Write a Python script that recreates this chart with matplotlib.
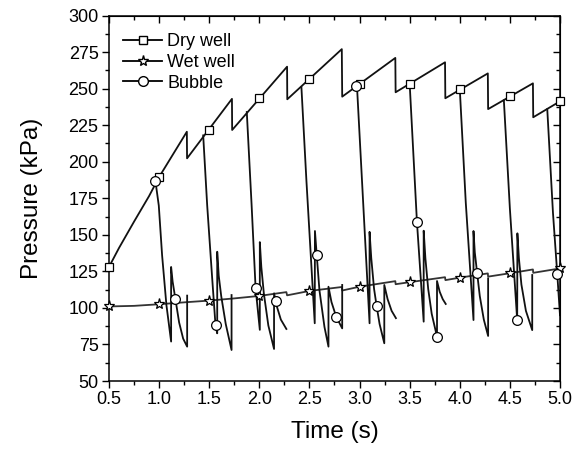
import matplotlib
matplotlib.use("Agg")
import matplotlib.pyplot as plt
import numpy as np
from matplotlib.lines import Line2D
from matplotlib.ticker import MultipleLocator, FormatStrFormatter

plt.rcParams['font.family'] = ['Liberation Sans', 'DejaVu Sans']

nan = np.nan

# dry well pressure (kPa) vs time (s)
dry_t = [0.5, 0.6, 0.75, 0.9, 1.0, 1.277, 1.279, 1.727, 1.729, 2.277, 2.279,
         2.823, 2.827, 3.357, 3.36, 3.853, 3.856, 4.28, 4.283, 4.73, 4.733, 5.0]
dry_p = [128, 141, 159, 176.5, 189.5, 220.5, 202.3, 243, 221.7, 265, 242.7,
         277, 244.5, 271, 247.5, 268, 243.4, 260.4, 236, 253.6, 230.4, 241.3]
dry_mk_t = [0.5, 1.0, 1.5, 2.0, 2.5, 3.0, 3.5, 4.0, 4.5, 5.0]
dry_mk_p = [128, 189.5, 222, 243.5, 256.6, 253.2, 253.4, 249.5, 245.2, 241.3]

# wet well
wet_t = [0.5, 0.75, 1.0, 1.25, 1.5, 1.75, 2.0, 2.27, 2.277, 2.5, 2.823, 2.827,
         3.0, 3.357, 3.36, 3.5, 3.853, 3.857, 4.0, 4.28, 4.283, 4.5, 4.73, 4.733, 5.0]
wet_p = [101.0, 101.4, 102.5, 103.8, 105.0, 106.5, 108.2, 110.8, 108.6, 111.6, 114.3, 111.9,
         114.5, 118.3, 116.2, 117.6, 121.0, 119.0, 120.7, 123.6, 121.4, 123.7, 126.3, 124.0, 127.0]
wet_mk_t = [0.5, 1.0, 1.5, 2.0, 2.5, 3.0, 3.5, 4.0, 4.5, 5.0]
wet_mk_p = [101.0, 102.5, 105.0, 108.2, 111.6, 114.5, 117.6, 120.7, 123.7, 127.0]

# bubble (NaN separates bubbles)
bub_t = [0.963, 0.997, 1.03, 1.073, 1.12, 1.12, 1.135, 1.163, 1.2, 1.24, 1.28, 1.28, nan,
         1.44, 1.48, 1.53, 1.563, 1.58, 1.58, 1.595, 1.62, 1.665, 1.723, 1.723, nan,
         1.875, 1.923, 1.963, 2.005, 2.005, 2.02, 2.045, 2.09, 2.147, 2.147, 2.175, 2.215, 2.27, nan,
         2.42, 2.47, 2.553, 2.555, 2.573, 2.6, 2.65, 2.69, 2.69, 2.72, 2.767, 2.827, 2.827, nan,
         2.975, 3.03, 3.1, 3.1, 3.117, 3.145, 3.17, 3.2, 3.247, 3.247, 3.28, 3.32, 3.363, nan,
         3.5, 3.573, 3.64, 3.64, 3.657, 3.685, 3.72, 3.773, 3.773, 3.8, 3.83, 3.86, nan,
         4.0, 4.06, 4.137, 4.137, 4.15, 4.173, 4.2, 4.24, 4.283, 4.283, nan,
         4.44, 4.5, 4.573, 4.575, 4.59, 4.615, 4.66, 4.723, 4.723, nan,
         4.873, 4.93, 4.973, 5.0]
bub_p = [187, 170, 136, 102, 77, 128, 118, 106, 90, 79, 73.5, 108.4, nan,
         218, 170, 120, 88, 82.6, 138.4, 122, 108, 89, 71.2, 108.8, nan,
         234, 170.5, 113.4, 85, 145, 128, 110, 88, 71.9, 110, 101, 92, 85.6, nan,
         251, 187, 89.5, 152.6, 136, 112, 87, 73.5, 114.5, 104, 94, 86, 115.7, nan,
         251, 180, 89.5, 152, 134, 113, 101.5, 89, 75.8, 115.7, 106, 98, 93, nan,
         253.6, 158.5, 90.6, 152.8, 134, 113, 96, 80.3, 118.4, 111, 106, 102.7, nan,
         250, 172, 91.7, 152.6, 138, 124, 108, 92, 80.8, 120.2, nan,
         242, 168, 91.7, 151, 134, 116, 98, 84.8, 122.5, nan,
         236, 165, 123, 95]
bub_mk_t = [0.963, 1.163, 1.563, 1.963, 2.163, 2.573, 2.767, 2.963, 3.17, 3.573,
            3.773, 4.173, 4.573, 4.973]
bub_mk_p = [187, 106, 88, 113.4, 104.5, 136, 94, 252, 101.5, 158.5,
            80.3, 124, 91.7, 123]

fig = plt.figure(figsize=(5.76, 4.51), dpi=100)
ax = fig.add_axes([0.1892, 0.1552, 0.7830, 0.8104])

lw = 1.3
ax.plot(dry_t, dry_p, color='#111111', lw=lw)
ax.plot(wet_t, wet_p, color='#333333', lw=lw)
ax.plot(bub_t, bub_p, color='#111111', lw=lw)

mk = dict(ls='none', mfc='white', mec='black', mew=0.9, clip_on=False, zorder=5)
ax.plot(dry_mk_t, dry_mk_p, marker='s', ms=5.5, **mk)
ax.plot(wet_mk_t, wet_mk_p, marker='*', ms=8, **mk)
ax.plot(bub_mk_t, bub_mk_p, marker='o', ms=7, **mk)

ax.set_xlim(0.5, 5.0)
ax.set_ylim(50, 300)
ax.xaxis.set_major_locator(MultipleLocator(0.5))
ax.xaxis.set_minor_locator(MultipleLocator(0.25))
ax.yaxis.set_major_locator(MultipleLocator(25))
ax.yaxis.set_minor_locator(MultipleLocator(12.5))
ax.xaxis.set_major_formatter(FormatStrFormatter('%.1f'))
ax.tick_params(which='major', direction='out', length=5, width=1, labelsize=13, pad=2.5)
ax.tick_params(which='minor', direction='out', length=3, width=1)
for s in ax.spines.values():
    s.set_linewidth(1.1)

top = ax.secondary_xaxis('top')
top.xaxis.set_major_locator(MultipleLocator(0.5))
top.xaxis.set_minor_locator(MultipleLocator(0.25))
top.tick_params(which='major', direction='in', length=5, width=1, labeltop=False)
top.tick_params(which='minor', direction='in', length=3, width=1)
right = ax.secondary_yaxis('right')
right.yaxis.set_major_locator(MultipleLocator(25))
right.yaxis.set_minor_locator(MultipleLocator(12.5))
right.tick_params(which='major', direction='in', length=5, width=1, labelright=False)
right.tick_params(which='minor', direction='in', length=3, width=1)

ax.set_xlabel('Time (s)', fontsize=17.5, labelpad=9)
ax.set_ylabel('Pressure (kPa)', fontsize=17.5, labelpad=18)

handles = [
    Line2D([], [], color='black', lw=lw, marker='s', ms=5.5, mfc='white', mec='black'),
    Line2D([], [], color='black', lw=lw, marker='*', ms=8, mfc='white', mec='black'),
    Line2D([], [], color='black', lw=lw, marker='o', ms=7, mfc='white', mec='black'),
]
ax.legend(handles, ['Dry well', 'Wet well', 'Bubble'], loc='upper left',
          bbox_to_anchor=(0.031, 0.952), frameon=False, fontsize=13,
          handlelength=2.17, handletextpad=0.28, labelspacing=0.21, borderpad=0,
          borderaxespad=0)

fig.savefig('out.png', dpi=100)
